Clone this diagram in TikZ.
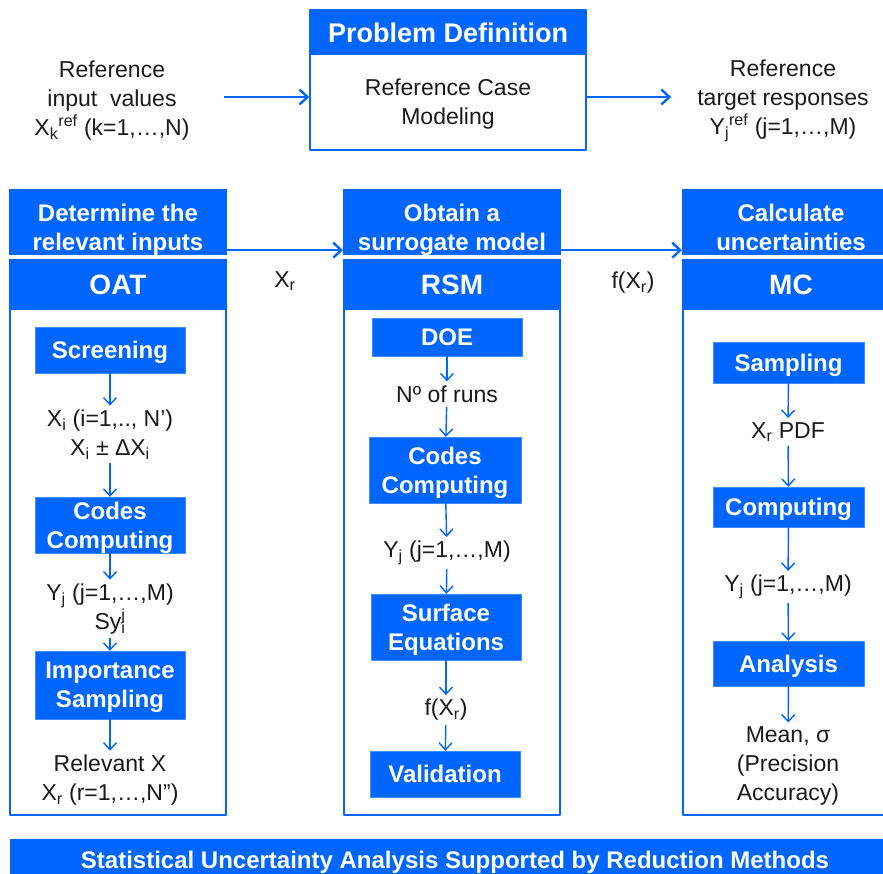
\documentclass[tikz,border=0pt]{standalone}
\usepackage{fontspec}
\setmainfont{Liberation Sans}
\usepackage{xcolor}
\usepackage{tikz}
\usetikzlibrary{arrows.meta,positioning,calc}
\definecolor{brightblue}{HTML}{0066FF}
\definecolor{ink}{HTML}{1A1A1A}
\tikzset{
    every picture/.style={line join=round},
    headbox/.style={fill=brightblue,text=white,inner sep=0pt,text height=57pt,text depth=0pt,
      minimum width=217.6pt,font=\fontsize{24}{29}\selectfont\bfseries,align=center},
    methodbox/.style={fill=brightblue,text=white,inner sep=0pt,text depth=0pt,
      minimum width=217.6pt,minimum height=51pt,font=\fontsize{28}{32}\selectfont\bfseries},
    framebox/.style={draw=brightblue,line width=1.6pt,fill=white,inner sep=0pt,
      minimum width=216pt},
    procbox/.style={fill=brightblue,text=white,draw=brightblue!75!white,line width=0.4pt,
      inner sep=0pt,text depth=0pt,minimum width=150pt,
      font=\fontsize{24}{29}\selectfont\bfseries,align=center},
    valtext/.style={text=ink,font=\fontsize{23}{29}\selectfont,align=center,inner sep=4pt},
    flowarrow/.style={draw=brightblue,line width=1.4pt,
      -{Straight Barb[length=7pt,width=13pt]}},
    mainarrow/.style={draw=brightblue,line width=2.4pt,
      -{Straight Barb[length=8pt,width=15pt]}}
}
\begin{document}
\begin{tikzpicture}[x=1pt,y=-1pt]
  \useasboundingbox (0,0) rectangle (883,873);
  % problem definition
  \node[framebox,minimum width=276pt,minimum height=140pt] (pdframe) at (448,80) {};
  \node[methodbox,minimum width=277.6pt,minimum height=45pt,
    font=\fontsize{27}{30}\selectfont\bfseries] (pdhead) at (448,32.5) {Problem Definition};
  \node[valtext] (pdbody) at (448,104) {Reference Case\\Modeling};
  \node[valtext] (refin) at (112,101)
    {Reference\\input~~values\\X\textsubscript{k}\textsuperscript{ref} (k=1,…,N)};
  \node[valtext] (reftgt) at (783,101)
    {Reference\\target~responses\\Y\textsubscript{j}\textsuperscript{ref} (j=1,…,M)};
  \draw[mainarrow,shorten <=30pt] ([yshift=4pt]refin.east) -- ([yshift=4pt]refin.east -| pdframe.west);
  \draw[mainarrow,shorten >=22pt] ([yshift=4pt]reftgt.west -| pdframe.east) -- ([yshift=4pt]reftgt.west);
  % three columns
  \foreach \nm/\cx/\hd/\mt in {oat/118/{Determine the\\relevant inputs}/OAT,
      rsm/452/{Obtain a\\surrogate model}/RSM,
      mc/791/{Calculate\\uncertainties}/MC} {
    \node[framebox,minimum height=510pt] (\nm frame) at (\cx,560) {};
    \node[headbox,minimum height=66pt] (\nm head) at (\cx,222) {\hd};
    \node[methodbox] (\nm method) at (\cx,284.5) {\mt};
  }
  \draw[mainarrow] ([yshift=5pt]oathead.south east) -- ([yshift=5pt]rsmhead.south west);
  \draw[mainarrow] ([yshift=5pt]rsmhead.south east) -- ([yshift=5pt]mchead.south west);
  \node[valtext] (xrlab) at (285,281) {X\textsubscript{r}};
  \node[valtext] (fxlab) at (633,283) {f(X\textsubscript{r})};
  % OAT
  \node[procbox,minimum height=46pt] (screen) at (110,350) {Screening};
  \node[valtext] (xi) at (110,434.5)
    {X\textsubscript{i} (i=1,.., N’)\\X\textsubscript{i} ± ΔX\textsubscript{i}};
  \node[procbox,minimum height=56pt] (codesA) at (110,525) {Codes\\Computing};
  \node[valtext] (yjA) at (110,609)
    {Y\textsubscript{j} (j=1,…,M)\\Sy\rlap{\textsubscript{i}}\textsuperscript{j}};
  \node[procbox,minimum height=68pt] (import) at (110,685) {Importance\\Sampling};
  \node[valtext] (relx) at (110,780) {Relevant~X\\X\textsubscript{r} (r=1,…,N”)};
  \draw[flowarrow] (screen) -- (xi);
  \draw[flowarrow] (xi) -- (codesA);
  \draw[flowarrow] (codesA) -- (yjA);
  \draw[flowarrow] (yjA) -- (import);
  \draw[flowarrow] (import) -- (relx);
  % RSM
  \node[procbox,minimum height=38pt] (doe) at (447,337) {DOE};
  \node[valtext] (runs) at (447,394) {Nº of runs};
  \node[procbox,minimum width=152pt,minimum height=66pt] (codesB) at (445,470) {Codes\\Computing};
  \node[valtext] (yjB) at (447,553) {Y\textsubscript{j} (j=1,…,M)};
  \node[procbox,minimum height=66pt] (surf) at (446,627) {Surface\\Equations};
  \node[valtext] (fxr) at (446,710) {f(X\textsubscript{r})};
  \node[procbox,minimum height=46pt] (valid) at (445,774) {Validation};
  \draw[flowarrow] (doe) -- (runs);
  \draw[flowarrow] (runs) -- (codesB);
  \draw[flowarrow] (codesB) -- (yjB);
  \draw[flowarrow] (yjB) -- (surf);
  \draw[flowarrow] (surf) -- (fxr);
  \draw[flowarrow] (fxr) -- (valid);
  % MC
  \node[procbox,minimum width=151pt,minimum height=41pt] (sampl) at (788.5,362.5) {Sampling};
  \node[valtext] (xrpdf) at (788,432) {X\textsubscript{r} PDF};
  \node[procbox,minimum width=151pt,minimum height=40pt] (comp) at (788.5,507) {Computing};
  \node[valtext] (yjC) at (788,587) {Y\textsubscript{j} (j=1,…,M)};
  \node[procbox,minimum width=151pt,minimum height=45pt] (anal) at (788.5,663.5) {Analysis};
  \node[valtext] (meanv) at (788,766) {Mean,~σ\\(Precision\\Accuracy)};
  \draw[flowarrow] (sampl) -- (xrpdf);
  \draw[flowarrow] (xrpdf) -- (comp);
  \draw[flowarrow] (comp) -- (yjC);
  \draw[flowarrow] (yjC) -- (anal);
  \draw[flowarrow] (anal) -- (meanv);
  % banner
  \node[fill=brightblue,anchor=north west,inner sep=0pt,
    minimum width=890pt,minimum height=40pt] (banner) at (10,839) {};
  \node[text=white,inner sep=0pt,font=\fontsize{24}{27}\selectfont\bfseries] (bantext) at (455,862)
    {Statistical Uncertainty Analysis Supported by Reduction Methods};
\end{tikzpicture}
\end{document}
